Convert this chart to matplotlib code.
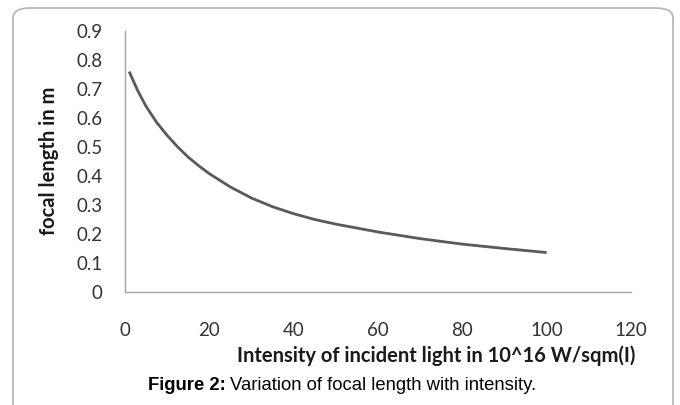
import matplotlib
matplotlib.use("Agg")
import matplotlib.pyplot as plt
from matplotlib.patches import FancyBboxPatch

# 数据
intensity = [1, 2, 3, 5, 7.5, 10, 12.5, 15, 17.5, 20, 25, 30, 35, 40, 45, 50,
             60, 70, 80, 90, 100]
focal_len = [0.760, 0.727, 0.695, 0.640, 0.585, 0.540, 0.500, 0.465, 0.435,
             0.408, 0.362, 0.324, 0.294, 0.270, 0.250, 0.234, 0.207, 0.184,
             0.165, 0.150, 0.136]
x_ticks = [0, 20, 40, 60, 80, 100, 120]
y_ticks = [0, 0.1, 0.2, 0.3, 0.4, 0.5, 0.6, 0.7, 0.8, 0.9]
y_ticklabels = ["0", "0.1", "0.2", "0.3", "0.4", "0.5", "0.6", "0.7", "0.8", "0.9"]

W, H = 680, 405
fig = plt.figure(figsize=(W / 100, H / 100), dpi=100)

# 外框（圆角）
border = FancyBboxPatch((13 / W, -0.2), 660 / W, 1.2 - 8 / H,
                        boxstyle="round,pad=0,rounding_size=0.025",
                        transform=fig.transFigure, facecolor="none",
                        edgecolor="#b8b8b8", linewidth=1.3, clip_on=False)
fig.patches.append(border)

ax = fig.add_axes([125 / W, 1 - 292 / H, 506 / W, 261 / H])
ax.plot(intensity, focal_len, color="#5a5a5a", linewidth=2.0,
        solid_capstyle="butt", solid_joinstyle="round")

ax.set_xlim(0, 120)
ax.set_ylim(0, 0.9)
ax.set_xticks(x_ticks)
ax.set_yticks(y_ticks)
ax.set_yticklabels(y_ticklabels)
ax.tick_params(length=0, labelsize=13.5, labelcolor="#333333")
ax.tick_params(axis="x", pad=21.5)
ax.tick_params(axis="y", pad=16)
for lab in ax.get_xticklabels() + ax.get_yticklabels():
    lab.set_family("Lato")

for side in ["top", "right"]:
    ax.spines[side].set_visible(False)
for side in ["left", "bottom"]:
    ax.spines[side].set_color("#a6a6a6")
    ax.spines[side].set_linewidth(1.0)

fig.text(49 / W, 1 - 161 / H, "focal length in m", rotation=90,
         ha="center", va="center", fontsize=14.5, fontweight="bold",
         family="Lato", color="#1a1a1a")
fig.text(436 / W, 1 - 356 / H, "Intensity of incident light in 10^16 W/sqm(I)",
         ha="center", va="center", fontsize=14.5, fontweight="bold",
         family="Lato", color="#1a1a1a")

# 图注：粗体 + 常规
cap_y = 1 - 386 / H
t1 = fig.text(148 / W, cap_y, "Figure 2:", ha="left", va="center",
              fontsize=13.3, fontweight="bold", family="Liberation Sans")
renderer = fig.canvas.get_renderer()
bb = t1.get_window_extent(renderer)
fig.text((bb.x1 + 4) / W, cap_y, "Variation of focal length with intensity.",
         ha="left", va="center", fontsize=13.3, family="Liberation Sans")

fig.savefig("out.png", dpi=100)
